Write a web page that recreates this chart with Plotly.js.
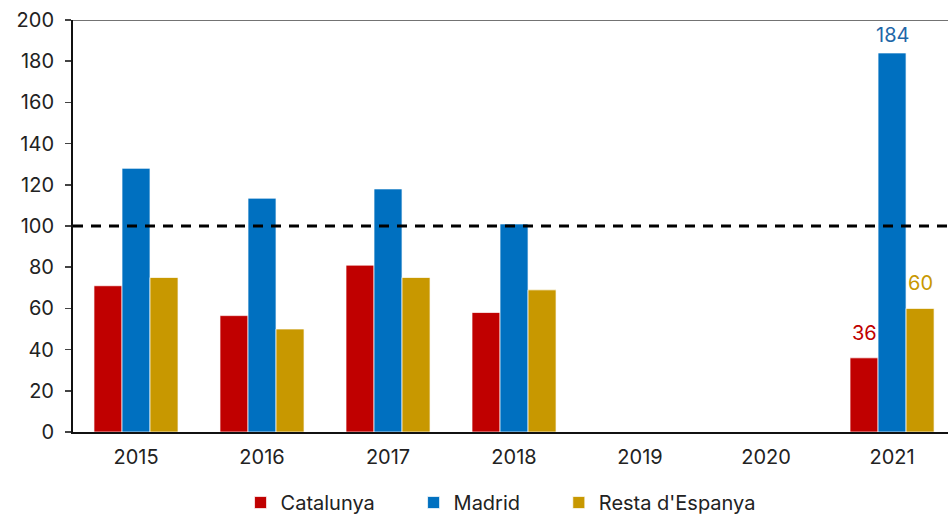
<!DOCTYPE html>
<html>
<head>
<meta charset="utf-8">
<script src="https://cdn.plot.ly/plotly-3.0.1.min.js"></script>
<style>html,body{margin:0;padding:0;background:#fff}#chart{width:948px;height:517px}</style>
</head>
<body>
<div id="chart"></div>
<script>
const years = ['2015', '2016', '2017', '2018', '2019', '2020', '2021'];
const catalunya = [71, 56.5, 81, 58, null, null, 36];
const madrid = [128, 113.5, 118, 101, null, null, 184];
const resta = [75, 50, 75, 69, null, null, 60];
const seriesNames = ['Catalunya', 'Madrid', 'Resta d\'Espanya'];
const labelYear = '2021';
const reference = 100;
const yTicks = [0, 20, 40, 60, 80, 100, 120, 140, 160, 180, 200];

const FONT = 'Inter, "Open Sans", sans-serif';
const PAD = '\u00a0\u00a0\u00a0\u00a0\u00a0\u00a0';
const colors = ['#C00000', '#0070C0', '#C89800'];
const labelColors = ['#C00000', '#1F67A8', '#C89800'];
const labelShift = [25, 18, 25];
const allVals = [catalunya, madrid, resta];

const data = allVals.map((vals, k) => ({
  type: 'bar', name: k < 2 ? seriesNames[k] + PAD : seriesNames[k], x: years, y: vals,
  marker: {color: colors[k], line: {color: 'rgba(255,255,255,0.7)', width: 1}},
  hoverinfo: 'skip'
}));

// labels for the last year, placed at the bar's top via data coords
const idx = years.indexOf(labelYear);
const annotations = allVals.map((vals, k) => ({
  x: idx, xref: 'x', y: vals[idx], yref: 'y',
  text: String(vals[idx]), showarrow: false,
  xshift: (k - 1) * 28, yshift: labelShift[k], yanchor: 'middle',
  font: {family: FONT, size: 20, color: labelColors[k]}
}));

const layout = {
  width: 948, height: 517,
  margin: {l: 73, r: 0, t: 20, b: 85},
  paper_bgcolor: '#fff', plot_bgcolor: '#fff',
  barmode: 'group', bargap: 0.333, bargroupgap: 0,
  font: {family: FONT, size: 20, color: '#222'},
  xaxis: {
    type: 'category', range: [-0.5, 6.444],
    showline: true, linecolor: '#111', linewidth: 2,
    ticks: '', showgrid: false, zeroline: false, ticklabelstandoff: 6,
    tickfont: {family: FONT, size: 20, color: '#222'}
  },
  yaxis: {
    range: [0, 200], tickvals: yTicks,
    showline: true, linecolor: '#111', linewidth: 2,
    ticks: 'outside', ticklen: 6, tickcolor: '#444', tickwidth: 1.5,
    showgrid: false, zeroline: false, ticklabelstandoff: 7,
    tickfont: {family: FONT, size: 20, color: '#222'}
  },
  annotations: annotations,
  shapes: [
    {type: 'line', xref: 'paper', x0: 0, x1: 1, yref: 'y', y0: reference, y1: reference,
     line: {color: '#000', width: 3, dash: '10px,8px'}},
    {type: 'line', xref: 'paper', x0: 0, x1: 1, yref: 'y', y0: 200, y1: 200,
     line: {color: '#444', width: 1.5}}
  ],
  showlegend: true,
  legend: {orientation: 'h', xref: 'container', x: 0.528, xanchor: 'center',
    yref: 'container', y: 0.028, yanchor: 'middle',
    font: {family: FONT, size: 20, color: '#222'}, itemclick: false}
};
Plotly.newPlot('chart', data, layout, {displayModeBar: false, staticPlot: true});
</script>
</body>
</html>
